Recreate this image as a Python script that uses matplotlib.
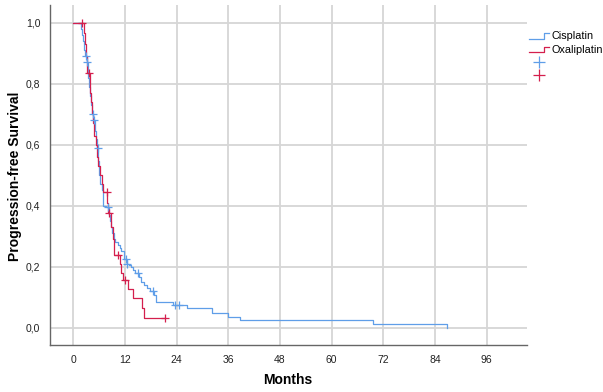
import matplotlib
matplotlib.use("Agg")
import matplotlib.pyplot as plt
from matplotlib.lines import Line2D
from matplotlib.legend_handler import HandlerLine2D
import numpy as np

# Kaplan-Meier steps: event time (months), survival after the step
cis_times = [1.8, 2.0, 2.3, 2.5, 2.7, 3.1, 3.35, 3.5, 3.7, 3.9, 4.1, 4.4, 4.7, 4.95,
             5.2, 5.4, 5.75, 6.0, 6.3, 6.6, 6.8, 7.0, 7.6, 8.2, 8.5, 8.8, 9.1, 9.4,
             9.8, 10.3, 10.8, 11.2, 11.9, 12.4, 12.9, 13.3, 13.8, 14.4, 15.2, 15.8,
             16.5, 17.2, 17.8, 18.8, 19.1, 23.2, 26.5, 32.2, 36.0, 38.7, 69.7, 86.9]
cis_surv = [0.98, 0.96, 0.94, 0.91, 0.89, 0.87, 0.85, 0.82, 0.79, 0.76, 0.73, 0.70,
            0.68, 0.645, 0.62, 0.59, 0.545, 0.50, 0.47, 0.45, 0.42, 0.40, 0.397, 0.37,
            0.35, 0.33, 0.31, 0.29, 0.28, 0.27, 0.26, 0.25, 0.225, 0.21, 0.205, 0.198,
            0.19, 0.178, 0.165, 0.15, 0.14, 0.13, 0.12, 0.107, 0.085, 0.074, 0.0635,
            0.047, 0.036, 0.025, 0.011, 0.0]
cis_censored = [2.95, 3.3, 4.65, 4.9, 5.67, 8.1, 12.2, 12.5, 15.1, 18.6, 23.6, 24.6]

oxa_times = [2.4, 2.8, 3.0, 3.3, 3.9, 4.0, 4.2, 4.4, 4.6, 4.9, 5.2, 5.4, 5.7, 6.2,
             6.7, 7.0, 7.9, 8.0, 8.8, 9.3, 9.5, 10.9, 11.2, 11.6, 12.6, 13.9, 15.9, 16.5]
oxa_surv = [0.965, 0.93, 0.89, 0.835, 0.80, 0.77, 0.74, 0.70, 0.67, 0.63, 0.60, 0.56,
            0.53, 0.50, 0.47, 0.446, 0.41, 0.377, 0.33, 0.29, 0.238, 0.21, 0.18, 0.157,
            0.127, 0.096, 0.064, 0.032]
oxa_censored = [2.1, 3.7, 7.75, 8.3, 10.5, 12.0, 21.4]
oxa_end = 21.4

x_ticks = [0, 12, 24, 36, 48, 60, 72, 84, 96]
y_ticks = [0.0, 0.2, 0.4, 0.6, 0.8, 1.0]

blue = "#5f9ee8"
red = "#d41f4d"


def step_xy(times, surv, end=None):
    xs = [0.0] + list(times)
    ys = [1.0] + list(surv)
    if end is not None and end > xs[-1]:
        xs.append(end)
        ys.append(ys[-1])
    return xs, ys


def surv_at(times, surv, t):
    i = np.searchsorted(times, t, side="right")
    return 1.0 if i == 0 else surv[i - 1]


class StepHandler(HandlerLine2D):
    def create_artists(self, legend, orig_handle, xdescent, ydescent, width, height,
                       fontsize, trans):
        x0 = -xdescent
        lo = -ydescent + height * 0.1
        hi = -ydescent + height * 0.8
        xm = x0 + width * 0.75
        ln = Line2D([x0, xm, xm, x0 + width], [lo, lo, hi, hi],
                    color=orig_handle.get_color(), lw=orig_handle.get_linewidth())
        ln.set_transform(trans)
        return [ln]


plt.rcParams['font.family'] = ['Liberation Sans', 'DejaVu Sans']

fig = plt.figure(figsize=(6.03, 3.92), dpi=100)
ax = fig.add_axes([50 / 603, 1 - 345 / 392, (526.7 - 50) / 603, (345 - 5) / 392])

xs, ys = step_xy(cis_times, cis_surv)
ax.step(xs, ys, where="post", color=blue, lw=0.9, zorder=3)
cy = [surv_at(cis_times, cis_surv, t) for t in cis_censored]
ax.plot(cis_censored, cy, "+", color=blue, ms=6, mew=0.9, zorder=4)

xs, ys = step_xy(oxa_times, oxa_surv, oxa_end)
ax.step(xs, ys, where="post", color=red, lw=0.9, zorder=3)
oy = [surv_at(oxa_times, oxa_surv, t) for t in oxa_censored]
ax.plot(oxa_censored, oy, "+", color=red, ms=6, mew=0.9, zorder=4)

ax.set_xlim(-5.4, 105.3)
ax.set_ylim(-0.057, 1.058)
ax.set_xticks(x_ticks)
ax.set_yticks(y_ticks)
ax.set_yticklabels([f"{v:.1f}".replace(".", ",") for v in y_ticks])
ax.tick_params(length=0, labelsize=7.5, pad=7, colors="#222222")
ax.grid(True, color="#d6d6d6", lw=1.3)
ax.set_axisbelow(True)
for s in ["top", "right"]:
    ax.spines[s].set_visible(False)
for s in ["left", "bottom"]:
    ax.spines[s].set_color("#666666")
    ax.spines[s].set_linewidth(1.0)

fig.text(288 / 603, 1 - 380 / 392, "Months", fontsize=10, fontweight="bold",
         ha="center", va="center")
fig.text(15 / 603, 1 - 176 / 392, "Progression-free Survival", fontsize=10,
         fontweight="bold", ha="center", va="center", rotation=90)

h1 = Line2D([], [], color=blue, lw=0.9)
h2 = Line2D([], [], color=red, lw=0.9)
h3 = Line2D([], [], color=blue, marker="+", ls="none", ms=8, mew=0.9)
h4 = Line2D([], [], color=red, marker="+", ls="none", ms=8, mew=0.9)
fig.legend([h1, h2, h3, h4], ["Cisplatin", "Oxaliplatin", "", ""],
           handler_map={h1: StepHandler(), h2: StepHandler()},
           loc="upper left", bbox_to_anchor=(525 / 603, 1 - 27 / 392),
           frameon=False, fontsize=7.8, handlelength=1.8, handletextpad=0.2,
           labelspacing=0.3, borderaxespad=0)

fig.savefig("out.png", dpi=100)
